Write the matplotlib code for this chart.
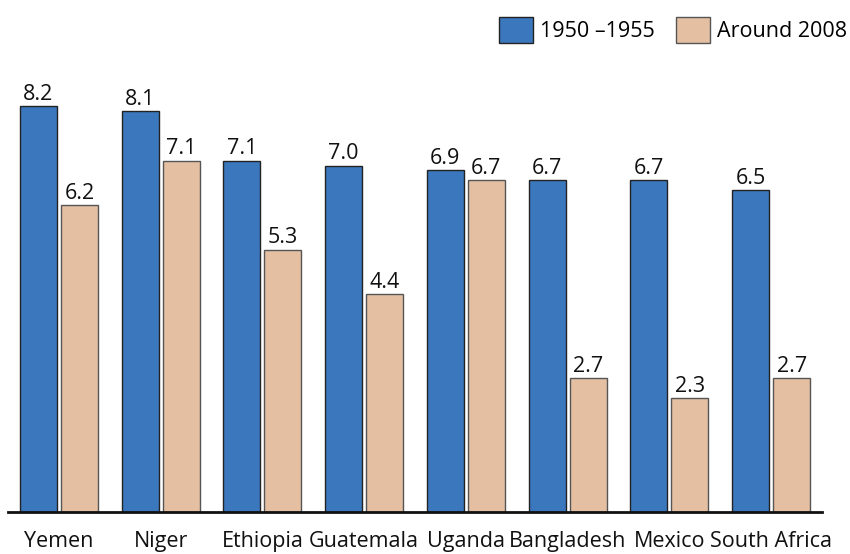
import matplotlib
matplotlib.use("Agg")
import matplotlib.pyplot as plt
import numpy as np

countries = ["Yemen", "Niger", "Ethiopia", "Guatemala", "Uganda", "Bangladesh", "Mexico", "South Africa"]
v1950 = [8.2, 8.1, 7.1, 7.0, 6.9, 6.7, 6.7, 6.5]
v2008 = [6.2, 7.1, 5.3, 4.4, 6.7, 2.7, 2.3, 2.7]
series_labels = ["1950 \u20131955", "Around 2008"]

plt.rcParams['font.family'] = ['Open Sans', 'DejaVu Sans']

fig = plt.figure(figsize=(8.5, 5.54), dpi=100)
ax = fig.add_axes([8/850, 42/554, 814/850, 445.5/554])

x = np.arange(len(countries))
w = 0.364
off = 0.202
blue = "#3A77BD"
tan = "#E5BFA2"
b1 = ax.bar(x - off, v1950, w, color=blue, edgecolor="#222222", linewidth=1.0, label=series_labels[0])
b2 = ax.bar(x + off, v2008, w, color=tan, edgecolor="#555555", linewidth=1.0, label=series_labels[1])

for bars, vals in ((b1, v1950), (b2, v2008)):
    for r, v in zip(bars, vals):
        ax.annotate(f"{v:.1f}", (r.get_x() + r.get_width()/2, v), xytext=(0, 1),
                    textcoords="offset points", ha="center", va="bottom", fontsize=15.5, color="#111111")

ax.set_xlim(-0.5, 7.5)
ax.set_ylim(0, 9.0)
ax.set_xticks(x)
ax.set_xticklabels(countries, fontsize=15.5, color="#111111")
ax.tick_params(axis='x', length=0, pad=14)
ax.set_yticks([])
for s in ["left", "right", "top"]:
    ax.spines[s].set_visible(False)
ax.spines["bottom"].set_linewidth(2)
ax.spines["bottom"].set_color("#111111")

fig.legend(handles=[b1, b2], labels=series_labels, loc="center right", bbox_to_anchor=(847/850, 1 - 30/554),
           ncol=2, frameon=False, fontsize=15.5, handlelength=1.6, handleheight=1.55,
           handletextpad=0.3, columnspacing=1.0, borderaxespad=0, borderpad=0)

fig.savefig("out.png", dpi=100)
